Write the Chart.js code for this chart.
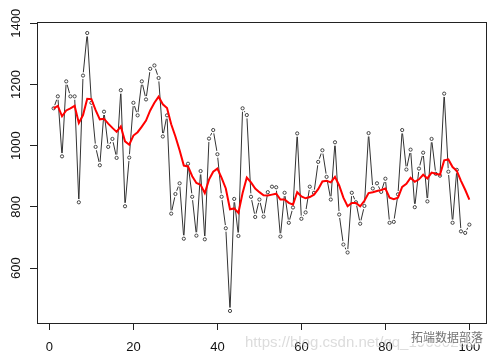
<!DOCTYPE html>
<html><head><meta charset="utf-8">
<script src="https://cdn.jsdelivr.net/npm/chart.js@4/dist/chart.umd.min.js"></script>
<style>html,body{margin:0;padding:0;background:#fff}#wrap{width:496px;height:361px;position:relative}</style>
</head><body><div id="wrap"><canvas id="c" width="496" height="361"></canvas></div>
<script>
const observed = [1122,1161,965,1210,1161,1161,815,1229,1368,1140,
  996,936,1111,996,1022,960,1181,802,961,1140,
  1099,1210,1151,1251,1262,1221,1030,1099,778,842,
  877,696,941,833,706,917,694,1023,1051,972,
  833,730,460,826,705,1122,1100,833,767,824,
  768,848,866,864,703,846,748,798,1040,761,
  782,866,846,947,985,898,824,1011,775,677,
  651,846,815,745,803,1041,860,877,849,892,
  748,751,841,1051,922,987,799,925,977,818,
  1022,908,902,1170,915,748,921,720,715,742];
const smoothed = [1122,1130,1096,1115,1122,1130,1074,1100,1153,1152,
  1116,1086,1088,1072,1058,1045,1063,1014,1003,1033,
  1044,1062,1082,1115,1140,1160,1135,1123,1070,1030,
  985,935,932,900,878,872,845,889,915,925,
  895,860,792,795,780,845,896,880,860,848,
  838,837,840,843,824,824,813,807,848,834,
  828,832,840,858,883,885,880,898,870,830,
  802,813,813,802,820,845,848,852,855,860,
  830,825,830,865,875,895,882,890,905,893,
  912,908,905,952,955,930,918,885,856,824];
const xTicks = [0,20,40,60,80,100];
const yTicks = [600,800,1000,1200,1400];
const watermarkUrl = "https://blog.csdn.net/qq_19600291";
const watermarkName = "拓端数据部落";

const toXY = arr => arr.map((v,i)=>({x:i+1,y:v}));
const FONT = "'Liberation Sans', Arial, Helvetica, sans-serif";

const boxPlugin = {
  id:'box',
  afterDatasetsDraw(chart){
    const a = chart.chartArea, ctx = chart.ctx;
    ctx.save();
    ctx.strokeStyle = '#222'; ctx.lineWidth = 1;
    ctx.strokeRect(Math.round(a.left)+0.5, Math.round(a.top)+0.5, Math.round(a.right-a.left), Math.round(a.bottom-a.top));
    ctx.restore();
  }
};
const yLabelPlugin = {
  id:'ylabels',
  afterDraw(chart){
    const s = chart.scales.y, ctx = chart.ctx;
    ctx.save();
    ctx.fillStyle = '#111';
    ctx.font = "13px " + FONT;
    ctx.textAlign = 'center'; ctx.textBaseline = 'middle';
    yTicks.forEach(v=>{
      const p = s.getPixelForValue(v);
      ctx.save(); ctx.translate(16, p); ctx.rotate(-Math.PI/2);
      ctx.fillText(String(v), 0, 0);
      ctx.restore();
    });
    ctx.restore();
  }
};
const xLabelPlugin = {
  id:'xlabels',
  afterDraw(chart){
    const s = chart.scales.x, ctx = chart.ctx;
    ctx.save();
    ctx.fillStyle = '#111';
    ctx.font = "13px " + FONT;
    ctx.textAlign = 'center'; ctx.textBaseline = 'middle';
    xTicks.forEach(v=>{
      ctx.fillText(String(v), s.getPixelForValue(v), 347);
    });
    ctx.restore();
  }
};
const watermarkPlugin = {
  id:'wm',
  afterDraw(chart){
    const ctx = chart.ctx;
    ctx.save();
    ctx.font = "15px " + FONT;
    ctx.fillStyle = 'rgba(185,185,185,0.5)';
    ctx.textBaseline = 'middle'; ctx.textAlign = 'left';
    ctx.fillText(watermarkUrl, 245, 343);
    ctx.font = "12px 'Noto Sans CJK SC', sans-serif";
    ctx.lineWidth = 3; ctx.strokeStyle = 'rgba(255,255,255,0.85)';
    ctx.strokeText(watermarkName, 411, 337);
    ctx.fillStyle = 'rgba(90,90,90,0.85)';
    ctx.fillText(watermarkName, 411, 337);
    ctx.restore();
  }
};

new Chart(document.getElementById('c'), {
  type:'line',
  data:{datasets:[
    {label:'smooth', data:toXY(smoothed), borderColor:'#ff0000', borderWidth:2, pointRadius:0, tension:0, order:0},
    {label:'points', data:toXY(observed), showLine:false, pointRadius:1.6, pointBorderWidth:1, pointBorderColor:'#444', pointBackgroundColor:'#fff', order:1},
    {label:'halo', data:toXY(observed), showLine:false, pointRadius:3.4, pointBorderWidth:0, pointBackgroundColor:'#fff', pointBorderColor:'#fff', order:2},
    {label:'series', data:toXY(observed), borderColor:'#333', borderWidth:1, pointRadius:0, tension:0, order:3}
  ]},
  options:{
    responsive:false, animation:false, devicePixelRatio:1,
    layout:{padding:{top:22,right:10,left:0,bottom:0}},
    plugins:{legend:{display:false}, tooltip:{enabled:false}},
    events:[],
    scales:{
      x:{type:'linear', min:-2.96, max:103.96,
        afterBuildTicks:s=>{s.ticks = xTicks.map(v=>({value:v}));},
        afterFit:s=>{s.height = 38;},
        grid:{drawOnChartArea:false, drawTicks:true, tickLength:7, color:'#222', lineWidth:1},
        border:{display:false},
        ticks:{display:false}
      },
      y:{type:'linear', min:420.6, max:1404,
        afterBuildTicks:s=>{s.ticks = yTicks.map(v=>({value:v}));},
        afterFit:s=>{s.width = 37;},
        grid:{drawOnChartArea:false, drawTicks:true, tickLength:7, color:'#222', lineWidth:1},
        border:{display:false},
        ticks:{display:false}
      }
    }
  },
  plugins:[boxPlugin, yLabelPlugin, xLabelPlugin, watermarkPlugin]
});
</script></body></html>
